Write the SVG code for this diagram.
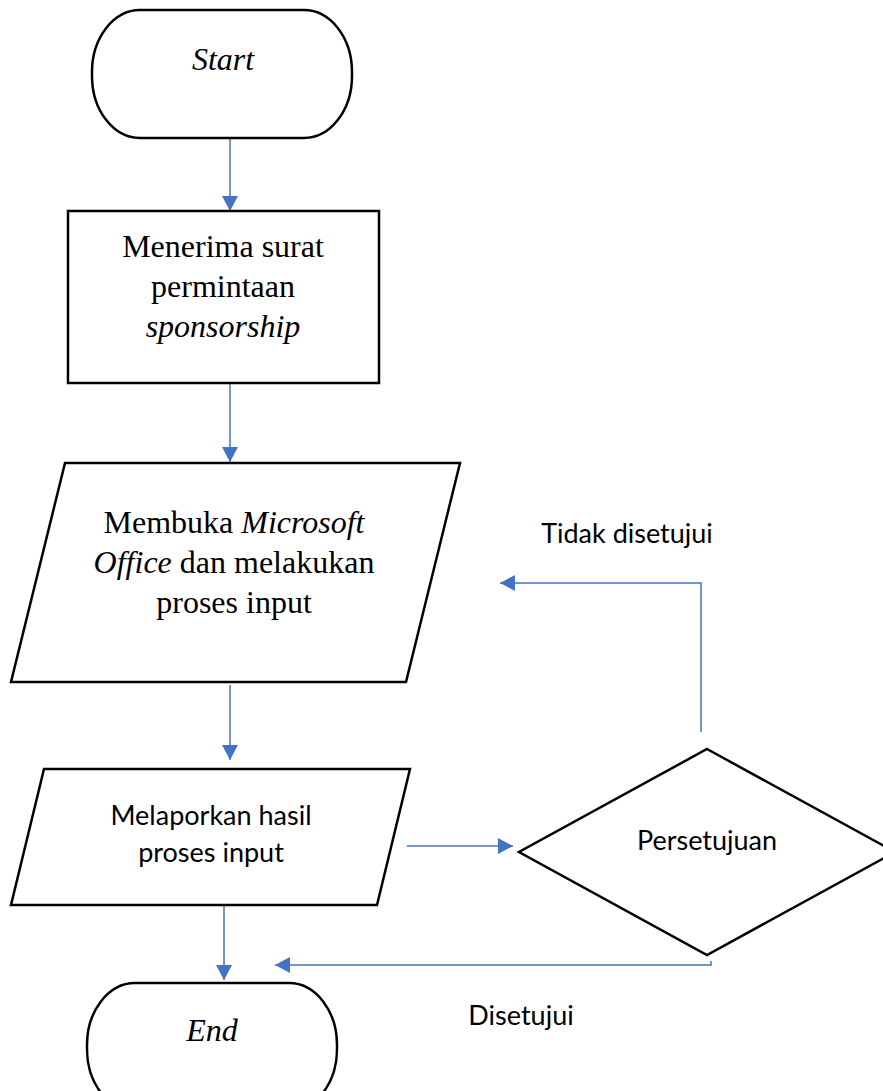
<svg xmlns="http://www.w3.org/2000/svg" width="883" height="1091" viewBox="0 0 883 1091">
<style>
.shape{fill:#fff;stroke:#000;stroke-width:2.5}
.conn{fill:none;stroke:#4472C4;stroke-width:1.5}
.serif{font-family:"Liberation Serif","Times New Roman",serif;font-size:32px;fill:#000}
.sans{font-family:Lato,"Open Sans",sans-serif;font-size:27px;fill:#000}
</style>
<defs>
<marker id="arr" markerUnits="userSpaceOnUse" markerWidth="16" markerHeight="16" refX="15" refY="8" orient="auto">
<path d="M0,0 L15,8 L0,16 Z" fill="#4472C4"/>
</marker>
</defs>
<g id="connectors">
<path class="conn" d="M230,138 V211" marker-end="url(#arr)"/>
<path class="conn" d="M230,383 V462" marker-end="url(#arr)"/>
<path class="conn" d="M230,685 V760" marker-end="url(#arr)"/>
<path class="conn" d="M407,846 H513" marker-end="url(#arr)"/>
<path class="conn" d="M701,732 V583 H500" marker-end="url(#arr)"/>
<path class="conn" d="M711,961 V965 H275" marker-end="url(#arr)"/>
<path class="conn" d="M224,905 V980" marker-end="url(#arr)"/>
</g>
<g id="start">
<rect class="shape" x="92" y="10" width="260" height="128" rx="48" ry="62"/>
<text class="serif" x="223" y="70" text-anchor="middle" font-style="italic">Start</text>
</g>
<g id="terima">
<rect class="shape" x="68" y="211" width="311" height="172"/>
<text class="serif" x="223" y="257" text-anchor="middle">Menerima surat</text>
<text class="serif" x="223" y="297" text-anchor="middle">permintaan</text>
<text class="serif" x="223" y="337" text-anchor="middle" font-style="italic">sponsorship</text>
</g>
<g id="membuka">
<polygon class="shape" points="65,463 460,463 406,682 11,682"/>
<text class="serif" x="234" y="533" text-anchor="middle">Membuka <tspan font-style="italic">Microsoft</tspan></text>
<text class="serif" x="234" y="573" text-anchor="middle"><tspan font-style="italic">Office</tspan> dan melakukan</text>
<text class="serif" x="234" y="613" text-anchor="middle">proses input</text>
</g>
<g id="melaporkan">
<polygon class="shape" points="44,769 410,769 377,905 11,905"/>
<text class="sans" x="211" y="825" text-anchor="middle">Melaporkan hasil</text>
<text class="sans" x="211" y="862" text-anchor="middle">proses input</text>
</g>
<g id="persetujuan">
<polygon class="shape" points="707,749 895,852 707,955 519,852"/>
<text class="sans" x="707" y="850" text-anchor="middle">Persetujuan</text>
</g>
<g id="end">
<rect class="shape" x="87" y="983" width="250" height="128" rx="48" ry="62"/>
<text class="serif" x="212" y="1041" text-anchor="middle" font-style="italic">End</text>
</g>
<g id="labels">
<text class="sans" x="627" y="543" text-anchor="middle">Tidak disetujui</text>
<text class="sans" x="521" y="1025" text-anchor="middle">Disetujui</text>
</g>
</svg>
